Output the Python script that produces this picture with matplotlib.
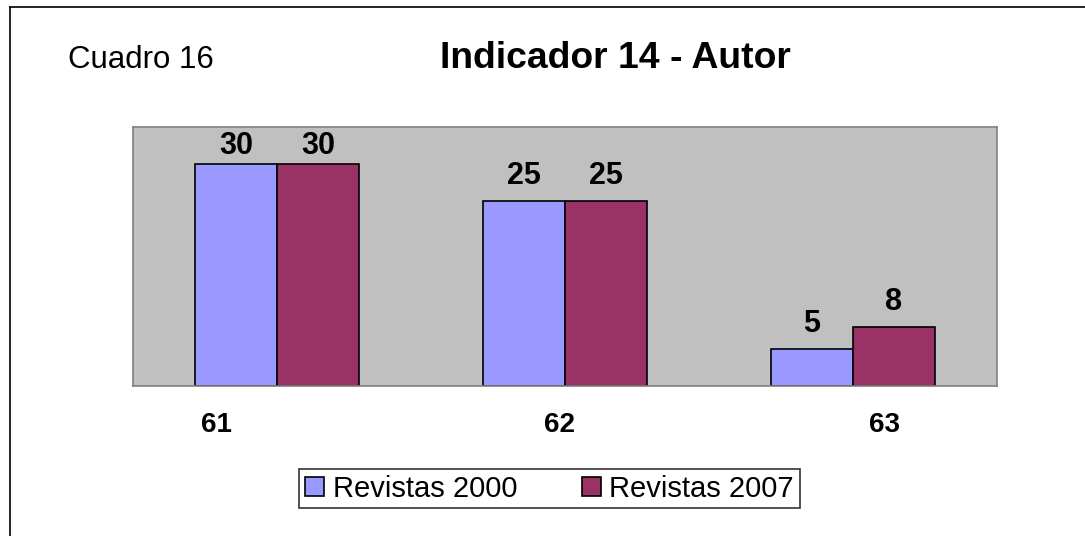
import numpy as np
import matplotlib.pyplot as plt
from matplotlib.lines import Line2D

plt.rcParams['font.family'] = ['Liberation Sans', 'DejaVu Sans']

categories = ["61", "62", "63"]
revistas_2000 = [30, 25, 5]
revistas_2007 = [30, 25, 8]
series_names = ["Revistas 2000", "Revistas 2007"]
colors = ["#9999FF", "#993366"]

fig = plt.figure(figsize=(10.85, 5.36), dpi=100)
ax = fig.add_axes([0.1226, 0.2799, 0.7963, 0.4832])
ax.set_facecolor("#C0C0C0")

x = np.arange(len(categories))
w = 0.285
b1 = ax.bar(x - w / 2, revistas_2000, w, color=colors[0], edgecolor="black", lw=1.2, label=series_names[0])
b2 = ax.bar(x + w / 2, revistas_2007, w, color=colors[1], edgecolor="black", lw=1.2, label=series_names[1])

ax.set_xlim(-0.5, 2.5)
ax.set_ylim(0, 35)
ax.set_xticks([])
ax.set_yticks([])
for s in ax.spines.values():
    s.set_color("#808080")
    s.set_linewidth(1.2)

# value labels (pushed down if they would leave the plot area)
for bars, vals in [(b1, revistas_2000), (b2, revistas_2007)]:
    for r, v in zip(bars, vals):
        ax.text(r.get_x() + r.get_width() / 2, min(v + 2.3, 31.3), str(v),
                ha="center", va="baseline", fontsize=22, fontweight="bold")

# category labels, offset like the original
label_shift = [-0.21, -0.02, 0.11]
for i, c in enumerate(categories):
    ax.text(i + label_shift[i], -0.178, c, transform=ax.get_xaxis_transform(),
            ha="center", va="baseline", fontsize=20, fontweight="bold")

fig.text(68 / 1085, (536 - 68) / 536, "Cuadro 16", fontsize=22.5, ha="left", va="baseline")
fig.text(0.567, (536 - 68) / 536, "Indicador 14 - Autor", fontsize=26.8, fontweight="bold",
         ha="center", va="baseline")

leg = fig.legend(loc="center", bbox_to_anchor=(0.5065, 0.0886), ncol=2, fontsize=21,
                 frameon=True, fancybox=False, handlelength=0.65, handleheight=0.65,
                 handletextpad=0.3, columnspacing=2.2, borderpad=0.2, borderaxespad=0)
leg.get_frame().set_edgecolor("black")
leg.get_frame().set_linewidth(1.2)

# outer frame (left and top edges visible)
fig.add_artist(Line2D([10 / 1085, 10 / 1085], [-0.1, (536 - 7) / 536], color="black", lw=1.2))
fig.add_artist(Line2D([10 / 1085, 1.1], [(536 - 7) / 536, (536 - 7) / 536], color="black", lw=1.2))

fig.savefig("out.png", dpi=100)
